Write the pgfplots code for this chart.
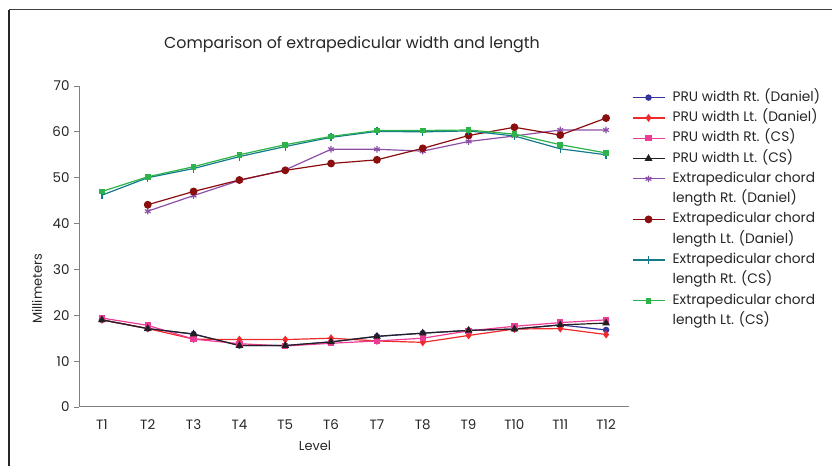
\documentclass[border=0pt]{standalone}
\usepackage{pgfplots}
\pgfplotsset{compat=1.18}
\usepackage{fontspec}
\setmainfont{Poppins}
\usetikzlibrary{plotmarks}
\definecolor{cBlue}{HTML}{333399}
\definecolor{cRed}{HTML}{EE2A2A}
\definecolor{cPink}{HTML}{EC3C96}
\definecolor{cBlack}{HTML}{231F20}
\definecolor{cPurple}{HTML}{8E4FA8}
\definecolor{cDRed}{HTML}{8B0E0E}
\definecolor{cTeal}{HTML}{147B8A}
\definecolor{cGreen}{HTML}{2DB34A}
\definecolor{axgray}{HTML}{808080}
\begin{document}
\begin{tikzpicture}[x=1bp,y=1bp]
\path[use as bounding box] (0,0) rectangle (832,466);
\draw[line width=1.2bp, black!75] (9,456.3) -- (832,456.3);
\draw[line width=1.2bp, black!85] (9,456.3) -- (9,0);
\begin{axis}[
  at={(79bp,59bp)}, anchor=south west,
  scale only axis, width=550bp, height=321bp,
  xmin=0.5, xmax=12.5, ymin=0, ymax=70,
  axis x line=bottom, axis y line=left,
  axis line style={-, axgray, line width=1bp},
  xtick={1,...,12},
  xticklabels={T1,T2,T3,T4,T5,T6,T7,T8,T9,T10,T11,T12},
  x tick style={draw=none},
  extra x ticks={1.5,2.5,3.5,4.5,5.5,6.5,7.5,8.5,9.5,10.5,11.5,12.5},
  extra x tick labels={},
  extra x tick style={tick style={draw=axgray, line width=0.8bp}, major tick length=5bp, tick align=outside},
  ytick={0,10,...,70},
  y tick style={draw=axgray, line width=0.8bp},
  major tick length=5bp, tick align=outside,
  tick label style={font=\fontsize{13.5}{15}\selectfont, text=black!85},
  /pgf/number format/assume math mode=true,
  xticklabel style={yshift=-4bp},
  yticklabel style={xshift=-1bp},
  xlabel={Level}, ylabel={Millimeters},
  label style={font=\fontsize{13}{15}\selectfont, text=black!85},
  xlabel style={at={(axis description cs:0.4291,-0.1215)}, anchor=center},
  ylabel style={at={(axis description cs:-0.0764,0.3676)}, anchor=center},
  every axis plot/.append style={line width=1.2bp},
  legend image code/.code={\draw[mark repeat=2,mark phase=2,#1] plot coordinates {(0bp,0bp) (16bp,0bp) (32bp,0bp)};},
  legend cell align=left,
  legend style={at={(axis description cs:0.9995,0.994)}, anchor=north west, draw=none, fill=none,
    font=\fontsize{13.8}{15}\selectfont, text=black!85, row sep=5.3bp, column sep=6bp,
    nodes={inner sep=1.5bp, text height=9.5bp, text depth=2.5bp}},
]
\addplot[cBlue, mark=*, mark size=2.6bp, mark options={solid}] coordinates {
(1,19.0) (2,17.1) (3,15.9) (4,13.4) (5,13.4) (6,14.2) (7,15.4) (8,16.1) (9,16.7) (10,17.0) (11,17.9) (12,16.8)};
\addlegendentry{PRU width Rt. (Daniel)}
\addplot[cRed, mark=diamond*, mark size=3bp] coordinates {
(1,19.0) (2,17.1) (3,14.8) (4,14.7) (5,14.7) (6,15.0) (7,14.4) (8,14.1) (9,15.6) (10,17.0) (11,17.1) (12,15.8)};
\addlegendentry{PRU width Lt. (Daniel)}
\addplot[cPink, mark=square*, mark size=2.6bp] coordinates {
(1,19.4) (2,17.8) (3,14.8) (4,13.8) (5,13.3) (6,13.9) (7,14.4) (8,15.0) (9,16.6) (10,17.6) (11,18.4) (12,19.0)};
\addlegendentry{PRU width Rt. (CS)}
\addplot[cBlack, mark=triangle*, mark size=3.3bp] coordinates {
(1,19.0) (2,17.1) (3,15.9) (4,13.4) (5,13.4) (6,14.2) (7,15.4) (8,16.1) (9,16.7) (10,17.0) (11,17.9) (12,18.3)};
\addlegendentry{PRU width Lt. (CS)}
\addplot[cPurple, mark=asterisk, mark size=3.3bp] coordinates {
(2,42.7) (3,46.1) (4,49.4) (5,51.7) (6,56.2) (7,56.2) (8,55.8) (9,57.9) (10,59.1) (11,60.4) (12,60.4)};
\addlegendentry{Extrapedicular chord}
\addlegendimage{empty legend}
\addlegendentry{length Rt. (Daniel)}
\addplot[cDRed, mark=*, mark size=3.3bp] coordinates {
(2,44.1) (3,47.0) (4,49.5) (5,51.6) (6,53.1) (7,53.9) (8,56.4) (9,59.2) (10,61.0) (11,59.3) (12,63.0)};
\addlegendentry{Extrapedicular chord}
\addlegendimage{empty legend}
\addlegendentry{length Lt. (Daniel)}
\addplot[cTeal, mark=|, mark size=4bp] coordinates {
(1,46.2) (2,50.0) (3,52.0) (4,54.6) (5,56.8) (6,58.8) (7,60.1) (8,60.0) (9,60.2) (10,59.1) (11,56.3) (12,55.0)};
\addlegendentry{Extrapedicular chord}
\addlegendimage{empty legend}
\addlegendentry{length Rt. (CS)}
\addplot[cGreen, mark=square*, mark size=2.3bp] coordinates {
(1,47.0) (2,50.2) (3,52.4) (4,55.0) (5,57.2) (6,59.0) (7,60.3) (8,60.3) (9,60.4) (10,59.5) (11,57.2) (12,55.4)};
\addlegendentry{Extrapedicular chord}
\addlegendimage{empty legend}
\addlegendentry{length Lt. (CS)}
\end{axis}
\node[font=\fontsize{15.9}{18}\selectfont, text=black!85] at (352,421) {Comparison of extrapedicular width and length};
\end{tikzpicture}
\end{document}
